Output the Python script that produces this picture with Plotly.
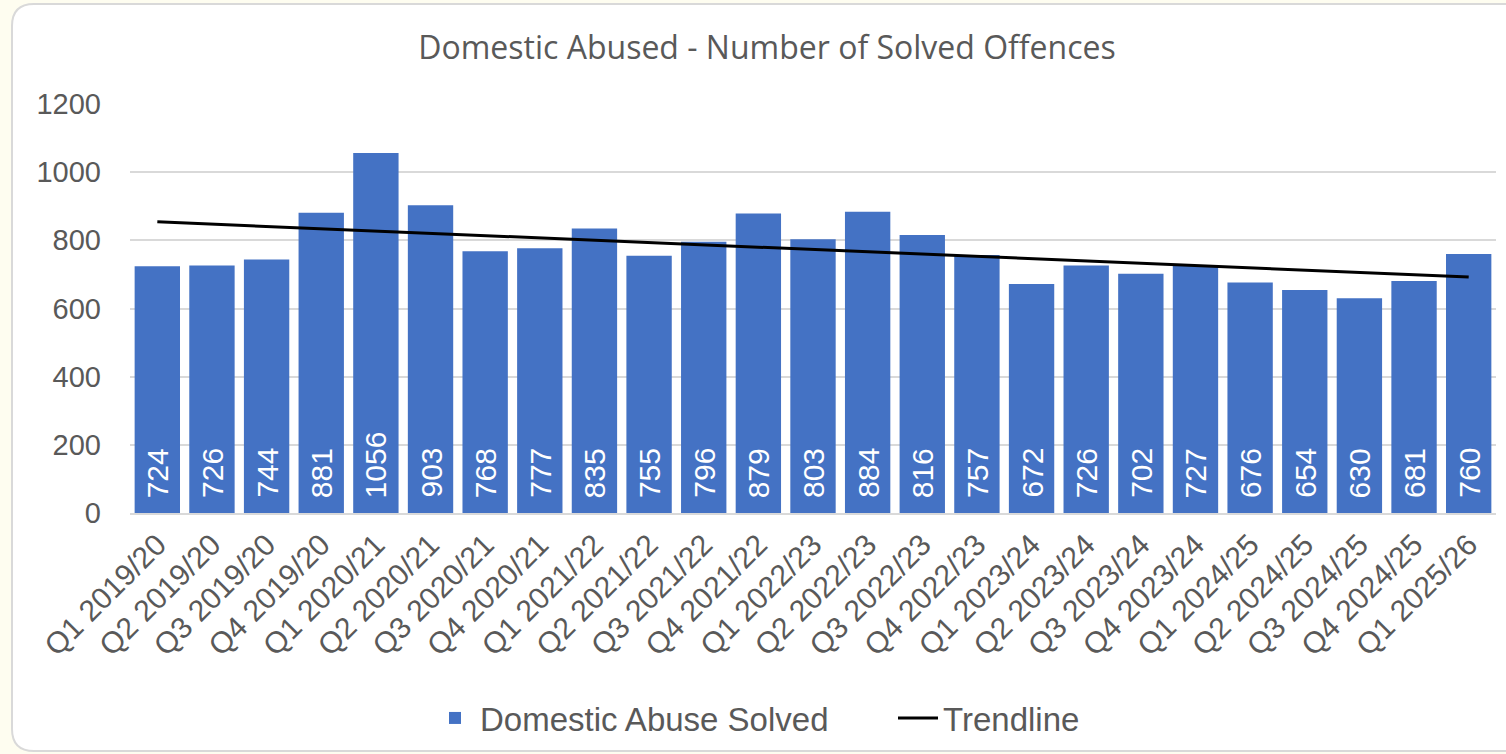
import numpy as np
import plotly.graph_objects as go

categories = ["Q1 2019/20", "Q2 2019/20", "Q3 2019/20", "Q4 2019/20",
              "Q1 2020/21", "Q2 2020/21", "Q3 2020/21", "Q4 2020/21",
              "Q1 2021/22", "Q2 2021/22", "Q3 2021/22", "Q4 2021/22",
              "Q1 2022/23", "Q2 2022/23", "Q3 2022/23", "Q4 2022/23",
              "Q1 2023/24", "Q2 2023/24", "Q3 2023/24", "Q4 2023/24",
              "Q1 2024/25", "Q2 2024/25", "Q3 2024/25", "Q4 2024/25",
              "Q1 2025/26"]
solved = [724, 726, 744, 881, 1056, 903, 768, 777, 835, 755, 796, 879,
          803, 884, 816, 757, 672, 726, 702, 727, 676, 654, 630, 681, 760]
y_ticks = [0, 200, 400, 600, 800, 1000, 1200]

# Linear trendline (least squares, as Excel does)
idx = np.arange(len(solved))
slope, intercept = np.polyfit(idx, solved, 1)
trend = slope * idx + intercept

W, H = 1506, 754
ML, MR, MT, MB = 130, 10, 104, 241
PW, PH = W - ML - MR, H - MT - MB

def px_to_paper(px, py):
    return (px - ML) / PW, (H - MB - py) / PH

def rounded_rect(x0, y0, x1, y1, r):
    def P(x, y):
        a, b = px_to_paper(x, y)
        return f"{a:.5f},{b:.5f}"
    return (f"M {P(x0 + r, y0)} L {P(x1 - r, y0)} Q {P(x1, y0)} {P(x1, y0 + r)} "
            f"L {P(x1, y1 - r)} Q {P(x1, y1)} {P(x1 - r, y1)} "
            f"L {P(x0 + r, y1)} Q {P(x0, y1)} {P(x0, y1 - r)} "
            f"L {P(x0, y0 + r)} Q {P(x0, y0)} {P(x0 + r, y0)} Z")

fig = go.Figure()
fig.add_trace(go.Bar(
    x=categories, y=solved, name="Domestic Abuse Solved",
    marker=dict(color="#4472C4", line=dict(width=0)),
))
fig.add_trace(go.Scatter(
    x=categories, y=trend, name="Trendline", mode="lines",
    line=dict(color="black", width=3),
))

# value labels inside each bar, reading upward from the base
for cat, val in zip(categories, solved):
    fig.add_annotation(x=cat, y=0, xref="x", yref="y", text=str(val),
                       textangle=-90, showarrow=False,
                       xanchor="center", yanchor="bottom", yshift=13,
                       font=dict(color="white", size=30,
                                 family="Liberation Sans, Arial"))

fig.add_shape(type="path", xref="paper", yref="paper",
              path=rounded_rect(12, 4, 1530, 751, 22),
              fillcolor="white", line=dict(color="#D9D9D9", width=2),
              layer="below")

fig.update_layout(
    width=W, height=H,
    margin=dict(l=ML, r=MR, t=MT, b=MB),
    paper_bgcolor="#FEFDF0",
    plot_bgcolor="rgba(0,0,0,0)",
    bargap=0.17,
    title=dict(text="Domestic Abused - Number of Solved Offences",
               x=767 / W, xref="container", xanchor="center",
               y=(H - 48) / H, yref="container", yanchor="middle",
               font=dict(family="Open Sans, Noto Sans", size=32, color="#595959")),
    font=dict(family="Liberation Sans, Arial", color="#595959"),
    showlegend=True,
    legend=dict(orientation="h", x=430 / W, xanchor="left", xref="container",
                y=(H - 718) / H, yanchor="middle", yref="container",
                font=dict(family="Liberation Sans, Arial", size=33, color="#595959"),
                itemwidth=40, entrywidth=408, bgcolor="rgba(0,0,0,0)"),
    xaxis=dict(tickangle=-45, tickfont=dict(size=30, color="#595959"),
               showgrid=False, showline=True, linecolor="#D9D9D9", linewidth=2,
               ticks=""),
    yaxis=dict(range=[0, 1200], tickvals=y_ticks,
               tickfont=dict(size=29, color="#595959"),
               showgrid=True, gridcolor="#D9D9D9", gridwidth=2,
               zeroline=False, showline=False, ticks="", ticklabelstandoff=28),
)

fig.write_html("out.html",
               config={"displayModeBar": False},
               post_script="document.body.style.margin='0';"
                           "document.body.style.background='#FEFDF0';")
